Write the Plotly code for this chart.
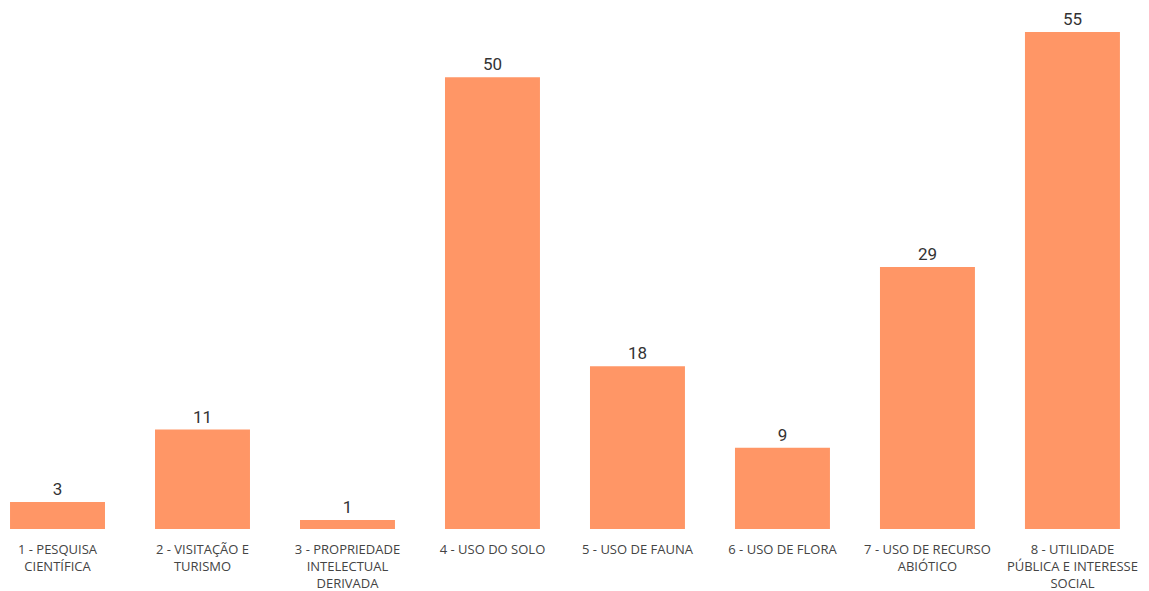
import plotly.graph_objects as go

categories = [
    "1 - PESQUISA<br>CIENTÍFICA",
    "2 - VISITAÇÃO E<br>TURISMO",
    "3 - PROPRIEDADE<br>INTELECTUAL<br>DERIVADA",
    "4 - USO DO SOLO",
    "5 - USO DE FAUNA",
    "6 - USO DE FLORA",
    "7 - USO DE RECURSO<br>ABIÓTICO",
    "8 - UTILIDADE<br>PÚBLICA E INTERESSE<br>SOCIAL",
]
values = [3, 11, 1, 50, 18, 9, 29, 55]

fig = go.Figure(
    go.Bar(
        x=list(range(len(categories))),
        y=values,
        text=[str(v) for v in values],
        textposition="outside",
        textfont=dict(family="Roboto, DejaVu Sans", size=17, color="#333333"),
        cliponaxis=False,
        marker=dict(color="#FF9666", line=dict(width=0)),
        width=0.655,
    )
)

fig.update_layout(
    width=1149,
    height=591,
    margin=dict(l=0, r=0, t=0, b=62),
    paper_bgcolor="white",
    plot_bgcolor="white",
    showlegend=False,
    xaxis=dict(
        range=[-0.3966, 7.528],
        tickmode="array",
        tickvals=list(range(len(categories))),
        ticktext=categories,
        tickfont=dict(family="Open Sans, Noto Sans", size=13, color="#444444"),
        showgrid=False,
        zeroline=False,
        showline=False,
        ticks="",
        ticklabelstandoff=11,
        tickangle=0,
    ),
    yaxis=dict(
        range=[0, 58.54],
        visible=False,
        showgrid=False,
        zeroline=False,
    ),
)

fig.write_html("out.html")
